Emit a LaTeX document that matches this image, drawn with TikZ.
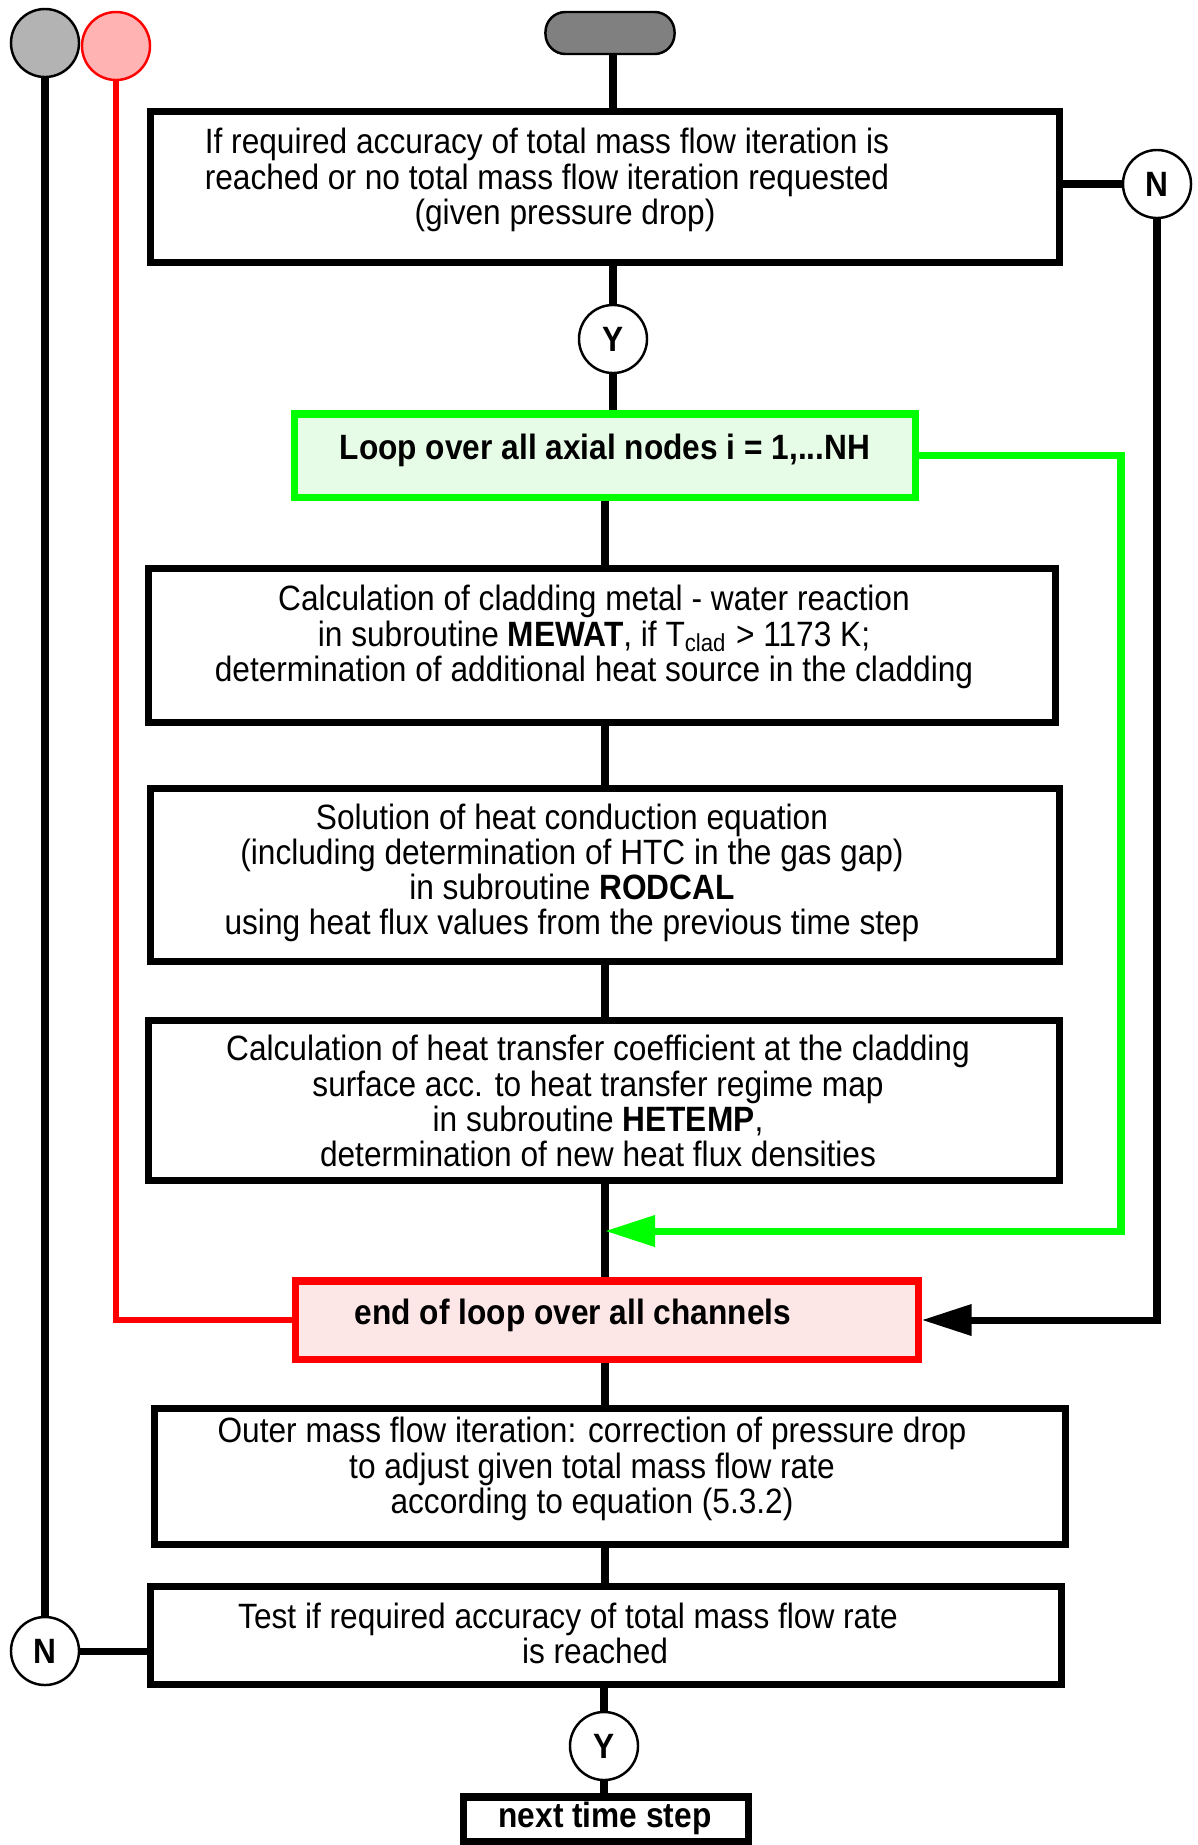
\documentclass[tikz,border=0pt]{standalone}
\usepackage{fontspec}
\setmainfont{Liberation Sans}[FakeStretch=0.9]
\usetikzlibrary{arrows.meta}
\definecolor{FlowGreen}{RGB}{0,255,0}
\definecolor{FlowGreenFill}{RGB}{230,252,230}
\definecolor{FlowRed}{RGB}{255,0,0}
\definecolor{FlowRedFill}{RGB}{253,230,230}
\definecolor{FlowPink}{RGB}{255,179,179}
\definecolor{FlowGrey}{RGB}{179,179,179}
\definecolor{FlowDark}{RGB}{128,128,128}

\begin{document}
\begin{tikzpicture}[x=0.01cm,y=-0.01cm,>={Triangle[length=0.5cm,width=0.3cm]},
    font=\fontsize{10}{10}\selectfont,
    box/.style={draw,line width=2pt,inner sep=0pt},
    txt/.style={align=center,inner sep=0pt},
    yn/.style={draw,circle,fill=white,line width=0.7pt,minimum size=0.68cm,inner sep=0pt,font=\fontsize{10}{10}\selectfont\bfseries},
    conn/.style={line width=2pt}]
    \useasboundingbox (0,0) rectangle (1198,1845);
    \node[draw,circle,fill=FlowGrey,line width=0.7pt,minimum size=0.68cm] (gstart) at (45,43) {};
    \node[draw=FlowRed,circle,fill=FlowPink,line width=0.7pt,minimum size=0.68cm] (rstart) at (116,46) {};
    \node[draw,fill=FlowDark,line width=0.7pt,rounded corners=0.2cm,minimum width=1.29cm,minimum height=0.42cm] (term) at (610,33) {};
    \node[box,minimum width=9.09cm,minimum height=1.51cm] (chk) at (605,187) {};
    \node[txt] (chktxt) at (547,180) {If required accuracy of total mass flow iteration is\\reached or no total mass flow iteration requested\\\hspace*{0.36cm}(given pressure drop)};
    \node[yn] (nA) at (1157,184) {N};
    \node[yn] (yA) at (613,339) {Y};
    \node[box,draw=FlowGreen,fill=FlowGreenFill,minimum width=6.2cm,minimum height=0.83cm] (axloop) at (605,455.5) {};
    \node[txt] (axlooptxt) at (605,450) {\textbf{Loop over all axial nodes i = 1,...NH}};
    \node[box,minimum width=9.07cm,minimum height=1.54cm] (mewat) at (602,645.5) {};
    \node[txt] (mewattxt) at (594,637) {Calculation of cladding metal - water reaction\\in subroutine \textbf{MEWAT}, if T\textsubscript{clad} > 1173 K;\\determination of additional heat source in the cladding};
    \node[box,minimum width=9.09cm,minimum height=1.73cm] (rodcal) at (605,875) {};
    \node[txt] (rodcaltxt) at (572,873) {Solution of heat conduction equation\\(including determination of HTC in the gas gap)\\in subroutine \textbf{RODCAL}\\using heat flux values from the previous time step};
    \node[box,minimum width=9.11cm,minimum height=1.6cm] (hetemp) at (604,1100.5) {};
    \node[txt] (hetemptxt) at (598,1101) {Calculation of heat transfer coefficient at the cladding\\surface acc. to heat transfer regime map\\in subroutine \textbf{HETEMP},\\determination of new heat flux densities};
    \node[box,draw=FlowRed,fill=FlowRedFill,minimum width=6.22cm,minimum height=0.78cm] (chend) at (607,1320) {};
    \node[txt] (chendtxt) at (573,1315) {\textbf{end of loop over all channels}};
    \node[box,minimum width=9.11cm,minimum height=1.36cm] (outer) at (610,1476.5) {};
    \node[txt] (outertxt) at (592,1469) {Outer mass flow iteration: correction of pressure drop\\to adjust given total mass flow rate\\according to equation (5.3.2)};
    \node[box,minimum width=9.11cm,minimum height=0.98cm] (test) at (606,1635.5) {};
    \node[txt] (testtxt) at (568,1633) {Test if required accuracy of total mass flow rate\\\hspace*{0.54cm}is reached};
    \node[yn] (nB) at (45,1651) {N};
    \node[yn] (yB) at (604,1746) {Y};
    \node[box,minimum width=2.85cm,minimum height=0.44cm] (nextstep) at (606,1819) {};
    \node[txt] (nextsteptxt) at (605,1818) {\textbf{next time step}};
    \draw[conn] (yA |- term.south) -- (yA |- chk.north);
    \draw[conn] (yA |- chk.south) -- (yA);
    \draw[conn] (yA) -- (yA |- axloop.north);
    \foreach \a/\b in {axloop/mewat,mewat/rodcal,rodcal/hetemp,hetemp/chend,chend/outer,outer/test}
      \draw[conn] (axloop.south |- \a.south) -- (axloop.south |- \b.north);
    \draw[conn] (yB |- test.south) -- (yB);
    \draw[conn] (yB) -- (yB |- nextstep.north);
    \draw[conn] (chk.east |- nA) -- (nA);
    \draw[conn,->] (nA.south) |- (chend.east);
    \draw[conn] (gstart) -- (nB);
    \draw[conn] (nB) -- (nB -| test.west);
    \draw[line width=1.7pt,FlowRed] (rstart) |- (chend.west);
    \coordinate (gturn) at (1121,1231);
    \coordinate (gjoin) at (axloop.south |- gturn);
    \draw[conn,FlowGreen,->] (axloop.east) -| (gturn) -- (gjoin);
  \end{tikzpicture}
\end{document}
